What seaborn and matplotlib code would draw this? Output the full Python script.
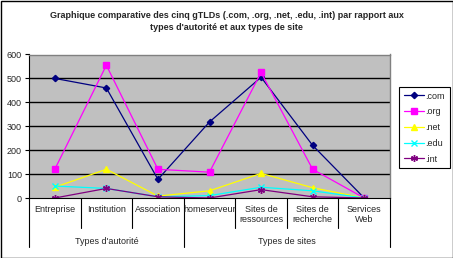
import matplotlib
matplotlib.use("Agg")
import matplotlib.pyplot as plt
import seaborn as sns
import pandas as pd
import numpy as np
from matplotlib.patches import Rectangle
from matplotlib.lines import Line2D

categories = ["Entreprise", "Institution", "Association", "homeserveur",
              "Sites de\nressources", "Sites de\nrecherche", "Services\nWeb"]
groups = ["Types d'autorité", "Types de sites"]
group_sizes = [3, 4]
series_names = [".com", ".org", ".net", ".edu", ".int"]
com = [500, 460, 78, 318, 505, 220, 0]
org = [120, 555, 120, 108, 525, 120, 0]
net = [45, 120, 8, 30, 103, 43, 0]
edu = [50, 40, 5, 10, 45, 30, 0]
int_ = [0, 40, 5, 0, 35, 5, 0]
yticks = [0, 100, 200, 300, 400, 500, 600]

values = [com, org, net, edu, int_]
rows = []
for name, vals in zip(series_names, values):
    for i, v in enumerate(vals):
        rows.append({"pos": i, "value": v, "serie": name})
df = pd.DataFrame(rows)

colors = {".com": "#000080", ".org": "#FF00FF", ".net": "#FFFF00",
          ".edu": "#00FFFF", ".int": "#800080"}
markers = {".com": "D", ".org": "s", ".net": "^", ".edu": "x", ".int": (6, 2, 0)}
msizes = {".com": 3.2, ".org": 5, ".net": 4, ".edu": 4, ".int": 5}

sns.set_style("white")
plt.rcParams["font.family"] = ["Liberation Sans", "DejaVu Sans"]

fig = plt.figure(figsize=(4.53, 2.58), dpi=100)
ax = fig.add_axes([29/453, 1-198/258, (390-29)/453, (198-54.5)/258])
ax.set_facecolor("#C0C0C0")

for name in series_names:
    sub = df[df["serie"] == name]
    sns.lineplot(data=sub, x="pos", y="value", ax=ax, color=colors[name],
                 marker=markers[name], markersize=msizes[name],
                 markeredgecolor=colors[name], markerfacecolor=colors[name],
                 linewidth=0.9, legend=False, markeredgewidth=1.0)

ax.set_xlim(-0.5, len(categories) - 0.5)
ax.set_ylim(0, 600)
ax.set_yticks(yticks)
ax.set_yticklabels([str(t) for t in yticks], fontsize=6.5)
ax.tick_params(axis="y", length=3, width=0.8, color="black", pad=2, left=True)
ax.set_xticks([])
ax.set_xlabel("")
ax.set_ylabel("")
for t in yticks[1:-1]:
    ax.axhline(t, color="black", linewidth=1.0, zorder=0.5)
for s in ["top", "right"]:
    ax.spines[s].set_color("#808080")
    ax.spines[s].set_linewidth(1.0)
ax.spines["left"].set_color("black")
ax.spines["bottom"].set_color("black")
ax.spines["left"].set_linewidth(0.8)
ax.spines["bottom"].set_linewidth(0.8)

# Multi-level category axis
trans = ax.get_xaxis_transform()
row1_bottom = -(228-198)/(198-54.5)
row2_bottom = -(247-198)/(198-54.5)
for i, c in enumerate(categories):
    ax.text(i, -(205-198)/(198-54.5), c, transform=trans, ha="center", va="top",
            fontsize=6.5, linespacing=1.1, clip_on=False)
bounds = np.arange(len(categories) + 1) - 0.5
group_edges = [-0.5]
acc = -0.5
for g in group_sizes:
    acc += g
    group_edges.append(acc)
for b in bounds:
    bottom = row2_bottom if any(abs(b - e) < 1e-9 for e in group_edges) else row1_bottom
    ax.add_line(Line2D([b, b], [0, bottom], transform=trans, color="black",
                       linewidth=0.8, clip_on=False))
for gi, g in enumerate(groups):
    center = (group_edges[gi] + group_edges[gi + 1]) / 2
    ax.text(center, -(241-198)/(198-54.5), g, transform=trans, ha="center",
            va="center", fontsize=6.5, clip_on=False)

# Legend
handles = [Line2D([0], [0], color=colors[n], marker=markers[n], markersize=msizes[n],
                  markerfacecolor=colors[n], markeredgecolor=colors[n], linewidth=0.9)
           for n in series_names]
leg = fig.legend(handles, series_names, loc="upper left",
                 bbox_to_anchor=(399/453, 1-87/258), fontsize=6.5, frameon=True,
                 fancybox=False, edgecolor="black", framealpha=1,
                 handlelength=2.3, labelspacing=0.75, borderpad=0.5,
                 handletextpad=0.15, borderaxespad=0)
leg.get_frame().set_linewidth(0.8)

fig.text(0.5, 1-15/258, "Graphique comparative des cinq gTLDs (.com, .org, .net, .edu, .int) par rapport aux",
         ha="center", va="center", fontsize=6.5, fontweight="bold")
fig.text(0.5, 1-27/258, "types d'autorité et aux types de site",
         ha="center", va="center", fontsize=6.5, fontweight="bold")

fig.patches.append(Rectangle((0.5/453, 0.5/258), 1-1/453, 1-1/258, transform=fig.transFigure,
                             fill=False, edgecolor="black", linewidth=1.0))

fig.savefig("out.png", dpi=100, facecolor="white")
